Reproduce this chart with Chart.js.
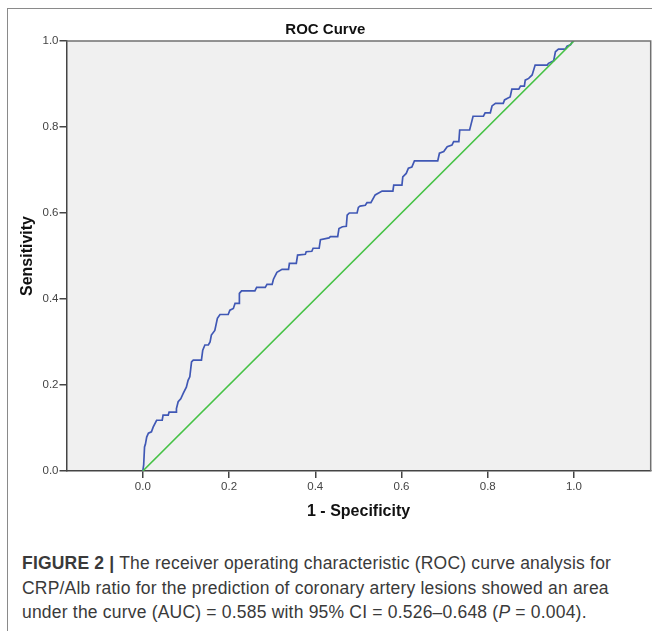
<!DOCTYPE html>
<html>
<head>
<meta charset="utf-8">
<script src="https://cdn.jsdelivr.net/npm/chart.js@4/dist/chart.umd.min.js"></script>
<style>
  html, body { margin:0; padding:0; background:#fff; overflow:hidden; }
  #wrap { position:relative; width:652px; height:631px; }
  #frame { position:absolute; left:7px; top:8px; width:700px; height:700px; border-left:1.5px solid #8a8a8a; border-top:1.5px solid #8a8a8a; }
  #chart { position:absolute; left:0; top:0; }
  #cap { position:absolute; left:22px; top:551px; white-space:nowrap; font:17.5px "Liberation Sans", Arial, sans-serif; letter-spacing:0.2px; line-height:24.5px; color:#3a3a3a; }
</style>
</head>
<body>
<div id="wrap">
  <div id="frame"></div>
  <canvas id="chart" width="652" height="540"></canvas>
  <div id="cap"><b>FIGURE 2 |</b> The receiver operating characteristic (ROC) curve analysis for<br>CRP/Alb ratio for the prediction of coronary artery lesions showed an area<br>under the curve (AUC) = 0.585 with 95% CI = 0.526–0.648 (<i>P</i> = 0.004).</div>
</div>
<script>
// ROC curve (1 - specificity, sensitivity)
const fpr = [0, 0.002, 0.004, 0.006, 0.009, 0.013, 0.020, 0.024, 0.032, 0.045, 0.047, 0.059, 0.061, 0.078, 0.078,
  0.082, 0.088, 0.094, 0.101, 0.105, 0.109, 0.113, 0.117, 0.136, 0.139, 0.144, 0.152, 0.156, 0.159, 0.167,
  0.173, 0.179, 0.198, 0.202, 0.210, 0.214, 0.224, 0.224, 0.229, 0.260, 0.264, 0.284, 0.288, 0.300, 0.303,
  0.311, 0.323, 0.338, 0.340, 0.356, 0.359, 0.377, 0.379, 0.392, 0.395, 0.409, 0.412, 0.432, 0.435, 0.452,
  0.455, 0.463, 0.472, 0.474, 0.479, 0.497, 0.500, 0.504, 0.516, 0.520, 0.529, 0.539, 0.555, 0.580, 0.582,
  0.601, 0.603, 0.611, 0.616, 0.624, 0.630, 0.684, 0.688, 0.698, 0.706, 0.717, 0.721, 0.733, 0.735, 0.758,
  0.761, 0.766, 0.790, 0.794, 0.806, 0.810, 0.818, 0.836, 0.839, 0.846, 0.852, 0.856, 0.872, 0.876, 0.885,
  0.887, 0.895, 0.903, 0.910, 0.938, 0.941, 0.953, 0.957, 0.964, 0.980, 0.984, 0.992, 0.996, 1.0];
const tpr = [0, 0.014, 0.056, 0.062, 0.079, 0.088, 0.091, 0.102, 0.118, 0.118, 0.130, 0.130, 0.137, 0.137, 0.145,
  0.161, 0.168, 0.181, 0.195, 0.211, 0.219, 0.254, 0.258, 0.258, 0.281, 0.293, 0.293, 0.300, 0.316, 0.327,
  0.355, 0.364, 0.364, 0.374, 0.378, 0.390, 0.390, 0.413, 0.419, 0.419, 0.427, 0.427, 0.434, 0.434, 0.446,
  0.462, 0.469, 0.469, 0.483, 0.483, 0.502, 0.504, 0.510, 0.511, 0.518, 0.518, 0.538, 0.542, 0.545, 0.545,
  0.564, 0.568, 0.569, 0.595, 0.600, 0.600, 0.613, 0.616, 0.618, 0.624, 0.624, 0.642, 0.651, 0.651, 0.665,
  0.665, 0.684, 0.692, 0.704, 0.707, 0.721, 0.721, 0.739, 0.743, 0.754, 0.758, 0.766, 0.766, 0.793, 0.793,
  0.805, 0.825, 0.825, 0.833, 0.833, 0.849, 0.855, 0.855, 0.863, 0.867, 0.870, 0.888, 0.888, 0.895, 0.895,
  0.909, 0.913, 0.921, 0.944, 0.944, 0.948, 0.954, 0.975, 0.981, 0.981, 0.988, 0.991, 0.998, 1.0];
// reference (chance) line
const refX = [0, 1];
const refY = [0, 1];
const tickVals = [0, 0.2, 0.4, 0.6, 0.8, 1.0];

const toPts = (xs, ys) => xs.map((x, i) => ({ x, y: ys[i] }));

const plotFrame = {
  id: 'plotFrame',
  beforeDraw(chart){
    const {ctx, chartArea:a} = chart;
    ctx.save(); ctx.fillStyle = '#f0f0f0'; ctx.fillRect(a.left, a.top, a.right - a.left, a.bottom - a.top); ctx.restore();
  },
  afterDatasetsDraw(chart){
    const {ctx, chartArea:a} = chart;
    ctx.save(); ctx.strokeStyle = '#707070'; ctx.lineWidth = 1.5;
    ctx.beginPath(); ctx.moveTo(a.left, a.top); ctx.lineTo(a.right, a.top); ctx.lineTo(a.right, a.bottom); ctx.stroke();
    ctx.restore();
  }
};

const setTicks = s => { s.ticks = tickVals.map(v => ({ value: v })); };
const tickOpts = { color:'#444', font:{ family:'"Liberation Sans", Arial, sans-serif', size:11.5 }, callback: v => v.toFixed(1) };

new Chart(document.getElementById('chart'), {
  type: 'scatter',
  data: {
    datasets: [
      { data: toPts(refX, refY), showLine:true, borderColor:'#45c245', borderWidth:1.6, pointRadius:0, tension:0 },
      { data: toPts(fpr, tpr), showLine:true, borderColor:'#4058b5', borderWidth:1.7, pointRadius:0, tension:0 }
    ]
  },
  options: {
    responsive:false, animation:false, events:[],
    layout:{ padding:{ left:0, right:1.3, top:0, bottom:0 } },
    plugins:{
      legend:{ display:false }, tooltip:{ enabled:false },
      title:{ display:true, text:'ROC Curve', color:'#111', font:{ family:'"Liberation Sans", Arial, sans-serif', size:15, weight:'bold' }, padding:{ top:21, bottom:2 } }
    },
    scales:{
      x:{
        type:'linear', min:-0.177, max:1.178,
        afterBuildTicks: setTicks,
        afterFit: s => { s.height = 69; },
        grid:{ drawOnChartArea:false, drawTicks:true, tickLength:7, color:'#444', lineWidth:1.5 },
        border:{ display:true, color:'#444', width:1.5 },
        ticks:{ ...tickOpts, padding:2, maxRotation:0 },
        title:{ display:true, text:'1 - Specificity', color:'#111', font:{ family:'"Liberation Sans", Arial, sans-serif', size:16, weight:'bold' }, padding:{ top:0, bottom:18.4 } }
      },
      y:{
        type:'linear', min:0, max:1,
        afterBuildTicks: setTicks,
        afterFit: s => { s.width = 66.5; },
        grid:{ drawOnChartArea:false, drawTicks:true, tickLength:7, color:'#444', lineWidth:1.5 },
        border:{ display:true, color:'#444', width:1.5 },
        ticks:{ ...tickOpts, padding:1 },
        title:{ display:true, text:'Sensitivity', color:'#111', font:{ family:'"Liberation Sans", Arial, sans-serif', size:16, weight:'bold' }, padding:{ top:17.5, bottom:0 } }
      }
    }
  },
  plugins:[plotFrame]
});
</script>
</body>
</html>
